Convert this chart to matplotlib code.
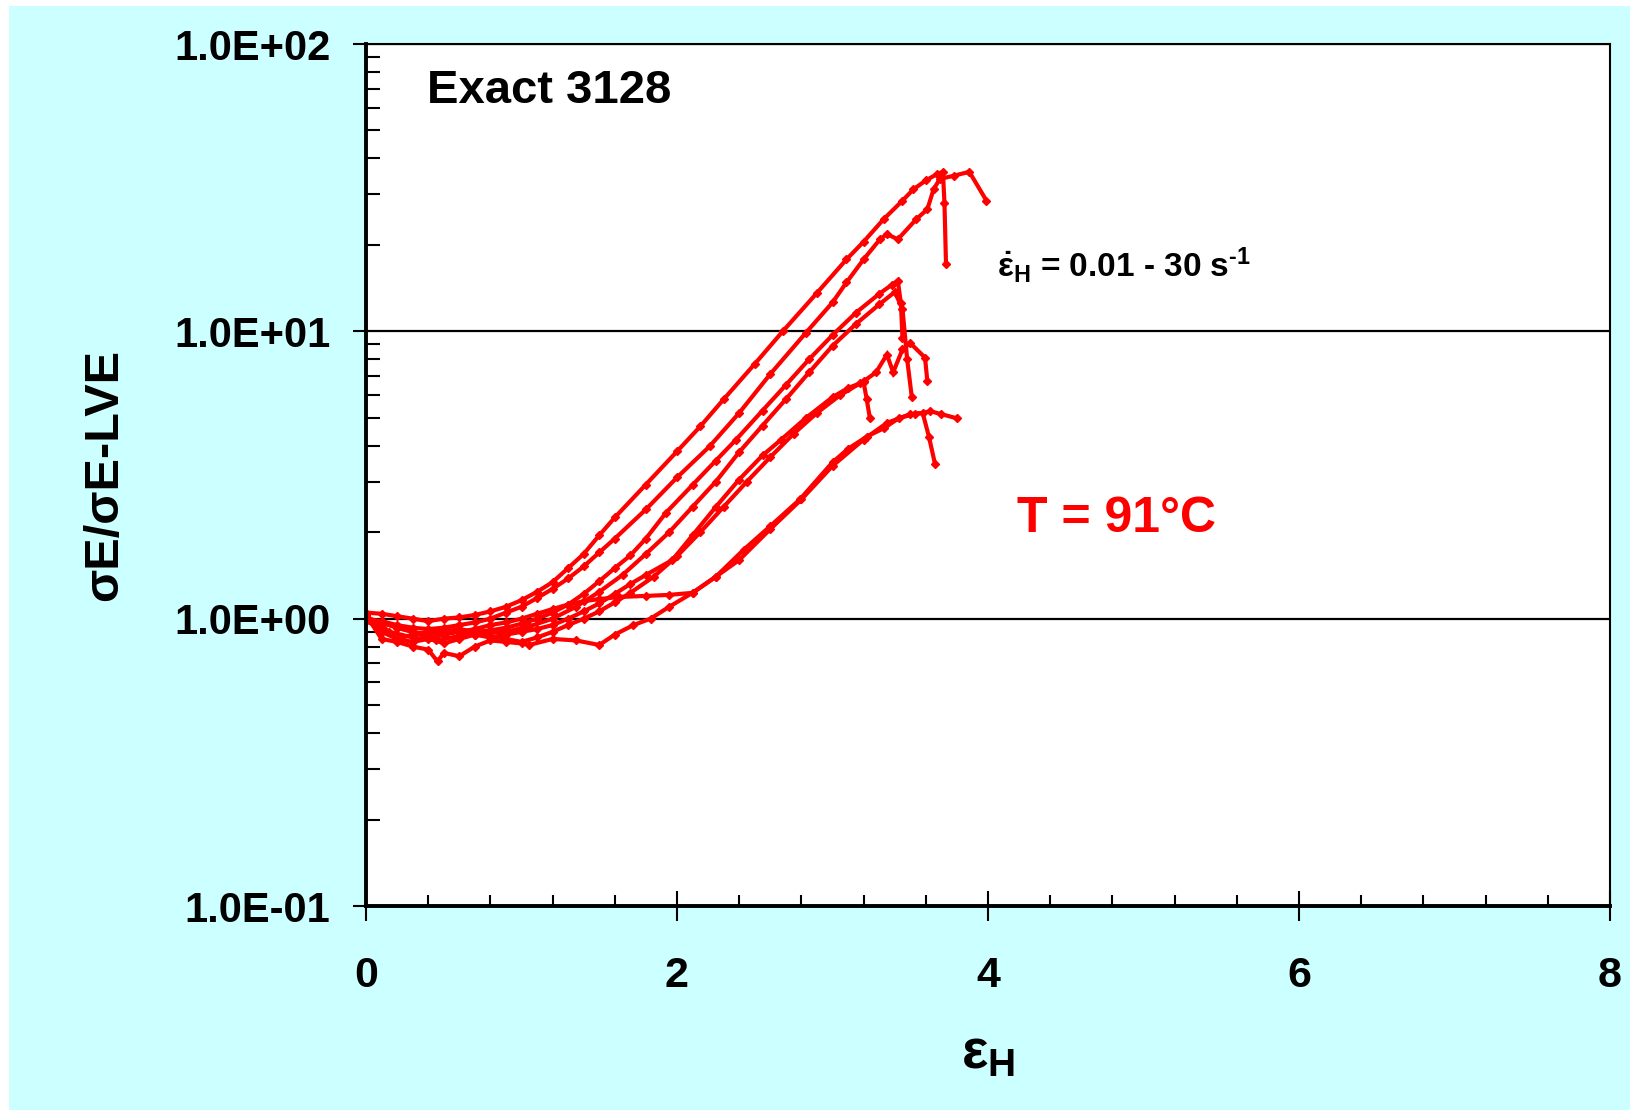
import matplotlib
matplotlib.use('Agg')
import matplotlib.pyplot as plt
from matplotlib.patches import Rectangle
from matplotlib.ticker import LogLocator, NullFormatter, FixedLocator

plt.rcParams['font.family'] = ['Liberation Sans', 'DejaVu Sans']
plt.rcParams['font.weight'] = 'bold'
plt.rcParams['mathtext.fontset'] = 'custom'
plt.rcParams['mathtext.rm'] = 'Liberation Sans:bold'
plt.rcParams['mathtext.it'] = 'Liberation Sans:bold'
plt.rcParams['mathtext.bf'] = 'Liberation Sans:bold'
plt.rcParams['mathtext.sf'] = 'Liberation Sans:bold'

# curves (Hencky strain, normalised stress)
a_x = [0.0, 0.1, 0.2, 0.3, 0.4, 0.5, 0.6, 0.7, 0.8, 0.9, 1.0, 1.1, 1.2, 1.3, 1.4, 1.5, 1.6, 1.8, 2.0, 2.15,
       2.3, 2.5, 2.68, 2.9, 3.09, 3.2, 3.33, 3.45, 3.52, 3.6, 3.67, 3.71, 3.72, 3.73]
a_y = [1.05, 1.04, 1.02, 1.0, 0.98, 1.0, 1.01, 1.03, 1.06, 1.1, 1.16, 1.24, 1.34, 1.5, 1.68, 1.95, 2.25, 2.93, 3.82, 4.67,
       5.8, 7.7, 10.0, 13.6, 17.8, 20.5, 24.6, 28.5, 31.2, 33.5, 35.2, 35.9, 28.0, 17.1]

b_x = [0.0, 0.1, 0.2, 0.3, 0.4, 0.5, 0.6, 0.7, 0.8, 0.9, 1.0, 1.1, 1.2, 1.3, 1.4, 1.5, 1.6, 1.8, 2.0, 2.21,
       2.4, 2.6, 2.83, 3.0, 3.09, 3.2, 3.305, 3.35, 3.42, 3.54, 3.61, 3.65, 3.69, 3.78, 3.88, 3.99]
b_y = [1.0, 0.98, 0.95, 0.93, 0.92, 0.93, 0.95, 0.97, 1.0, 1.05, 1.1, 1.18, 1.27, 1.38, 1.52, 1.7, 1.9, 2.4, 3.1, 3.98,
       5.2, 7.1, 9.9, 12.6, 14.8, 17.8, 20.9, 21.8, 20.9, 24.6, 26.6, 31.2, 33.9, 34.8, 35.9, 28.5]

c1_x = [0.0, 0.1, 0.2, 0.3, 0.4, 0.5, 0.6, 0.7, 0.8, 0.9, 1.0, 1.1, 1.2, 1.3, 1.4, 1.5, 1.6, 1.7, 1.8, 1.93,
        2.1, 2.25, 2.38, 2.55, 2.7, 2.85, 3.0, 3.15, 3.3, 3.38, 3.42, 3.44, 3.45]
c1_y = [1.0, 0.97, 0.93, 0.9, 0.88, 0.9, 0.92, 0.9, 0.91, 0.93, 0.96, 1.0, 1.05, 1.12, 1.22, 1.35, 1.5, 1.66, 1.9, 2.34,
        2.92, 3.55, 4.2, 5.3, 6.5, 8.0, 9.7, 11.6, 13.5, 14.5, 15.0, 12.5, 9.5]

c2_x = [0.0, 0.15, 0.3, 0.45, 0.6, 0.75, 0.9, 1.05, 1.2, 1.35, 1.5, 1.65, 1.8, 1.95, 2.1, 2.25, 2.4, 2.55, 2.7, 2.85,
        3.0, 3.15, 3.3, 3.4, 3.45, 3.48, 3.51]
c2_y = [0.98, 0.9, 0.86, 0.84, 0.87, 0.89, 0.9, 0.94, 1.0, 1.1, 1.24, 1.42, 1.68, 2.0, 2.45, 3.0, 3.8, 4.7, 5.8, 7.2,
        8.9, 10.6, 12.4, 13.7, 12.0, 8.0, 5.9]

d_x = [0.0, 0.1, 0.2, 0.3, 0.4, 0.5, 0.6, 0.7, 0.8, 0.9, 1.0, 1.1, 1.2, 1.3, 1.4, 1.5, 1.6, 1.7, 1.85, 2.0,
       2.15, 2.3, 2.45, 2.6, 2.75, 2.9, 3.05, 3.2, 3.28, 3.35, 3.39, 3.45, 3.5, 3.595, 3.61]
d_y = [1.0, 0.97, 0.93, 0.9, 0.86, 0.82, 0.85, 0.88, 0.87, 0.85, 0.83, 0.86, 0.9, 0.95, 1.0, 1.06, 1.14, 1.23, 1.4, 1.65,
       2.0, 2.45, 3.0, 3.65, 4.4, 5.2, 6.0, 6.7, 7.2, 8.3, 7.2, 8.65, 9.1, 8.1, 6.7]

e_x = [0.0, 0.1, 0.2, 0.3, 0.4, 0.5, 0.6, 0.7, 0.8, 0.9, 1.0, 1.1, 1.2, 1.3, 1.4, 1.5, 1.6, 1.7, 1.8, 1.97,
       2.1, 2.25, 2.4, 2.55, 2.67, 2.83, 3.0, 3.1, 3.18, 3.2, 3.22, 3.24]
e_y = [1.02, 0.95, 0.85, 0.88, 0.9, 0.92, 0.9, 0.88, 0.86, 0.88, 0.9, 0.92, 0.95, 1.0, 1.06, 1.13, 1.22, 1.32, 1.42, 1.6,
       1.95, 2.45, 3.05, 3.7, 4.2, 5.0, 5.9, 6.35, 6.6, 6.65, 5.8, 5.0]

f1_x = [0.0, 0.1, 0.2, 0.3, 0.4, 0.5, 0.6, 0.7, 0.8, 0.9, 1.0, 1.1, 1.2, 1.3, 1.4, 1.5, 1.63, 1.8, 1.95, 2.1,
        2.25, 2.43, 2.6, 2.79, 3.0, 3.1, 3.22, 3.33, 3.43, 3.53, 3.63, 3.7, 3.8]
f1_y = [1.0, 0.9, 0.85, 0.83, 0.85, 0.88, 0.9, 0.92, 0.95, 0.97, 1.0, 1.04, 1.08, 1.12, 1.15, 1.17, 1.19, 1.2, 1.21, 1.23,
        1.4, 1.74, 2.1, 2.6, 3.5, 3.9, 4.3, 4.6, 5.0, 5.15, 5.27, 5.15, 4.98]

f2_x = [0.0, 0.1, 0.2, 0.3, 0.4, 0.46, 0.5, 0.6, 0.7, 0.8, 0.9, 1.0, 1.05, 1.2, 1.35, 1.5, 1.6, 1.72, 1.83, 1.95,
        2.1, 2.25, 2.4, 2.6, 2.8, 3.0, 3.2, 3.35, 3.5, 3.58, 3.62, 3.66]
f2_y = [1.03, 0.85, 0.83, 0.8, 0.78, 0.71, 0.76, 0.74, 0.8, 0.84, 0.83, 0.82, 0.81, 0.85, 0.84, 0.81, 0.88, 0.95, 1.0, 1.1,
        1.23, 1.4, 1.6, 2.05, 2.6, 3.4, 4.2, 4.8, 5.15, 5.2, 4.3, 3.44]

curves = [(a_x, a_y), (b_x, b_y), (c1_x, c1_y), (c2_x, c2_y), (d_x, d_y),
          (e_x, e_y), (f1_x, f1_y), (f2_x, f2_y)]

y_ticks = [0.1, 1, 10, 100]
y_labels = ['1.0E-01', '1.0E+00', '1.0E+01', '1.0E+02']
x_ticks = [0, 2, 4, 6, 8]
x_minor = [0.4, 0.8, 1.2, 1.6, 2.4, 2.8, 3.2, 3.6, 4.4, 4.8, 5.2, 5.6, 6.4, 6.8, 7.2, 7.6]

W, H = 1631, 1110
fig = plt.figure(figsize=(W / 100, H / 100), dpi=100)
fig.patches.append(Rectangle((9 / W, 0), 1 - 9 / W, 1 - 6 / H, transform=fig.transFigure,
                             facecolor='#ccffff', edgecolor='none', zorder=-10))

ax = fig.add_axes([366 / W, 1 - 906 / H, (1610 - 366) / W, (906 - 44) / H])
ax.set_facecolor('white')
ax.set_yscale('log')

for xs, ys in curves:
    ax.plot(xs, ys, color='red', lw=3.0, marker='D', ms=4, solid_joinstyle='miter')

ax.set_xlim(0, 8)
ax.set_ylim(0.1, 100)

ax.set_yticks(y_ticks)
ax.set_yticklabels(y_labels)
ax.yaxis.set_minor_locator(LogLocator(base=10, subs=range(2, 10)))
ax.yaxis.set_minor_formatter(NullFormatter())
ax.set_xticks(x_ticks)
ax.set_xticklabels([str(v) for v in x_ticks])
ax.xaxis.set_minor_locator(FixedLocator(x_minor))

ax.tick_params(axis='y', which='major', direction='out', length=9.5, width=1.5,
               labelsize=30, pad=16)
ax.tick_params(axis='y', which='minor', direction='in', length=10, width=1.5)
ax.tick_params(axis='x', which='major', direction='inout', length=21.5, width=1.5,
               labelsize=31, pad=25)
ax.tick_params(axis='x', which='minor', direction='in', length=8, width=1.5)

ax.grid(True, which='major', axis='y', color='black', lw=1.6)
ax.set_axisbelow(True)

ax.spines['left'].set_linewidth(2.8)
ax.spines['bottom'].set_linewidth(2.8)
ax.spines['top'].set_linewidth(1.5)
ax.spines['right'].set_linewidth(1.5)


def px(x, y):
    return x / W, 1 - y / H


fig.text(*px(427, 103), 'Exact 3128', fontsize=34, fontweight='bold', va='baseline', ha='left')
fig.text(*px(1017, 532), 'T = 91°C', fontsize=36, fontweight='bold', color='red',
         va='baseline', ha='left')
fig.text(*px(997, 277), r'$\dot{\varepsilon}_\mathrm{H}$ = 0.01 - 30 s$^{\text{-}1}$', fontsize=24,
         fontweight='bold', va='baseline', ha='left')

fig.text(*px(105, 475), 'σE/σE-LVE', fontsize=35, fontweight='bold', rotation=90,
         va='center', ha='center')
fig.text(*px(988, 1068), r'$\varepsilon_\mathrm{H}$', fontsize=40, fontweight='bold',
         va='baseline', ha='center')

fig.savefig('out.png', dpi=100)
